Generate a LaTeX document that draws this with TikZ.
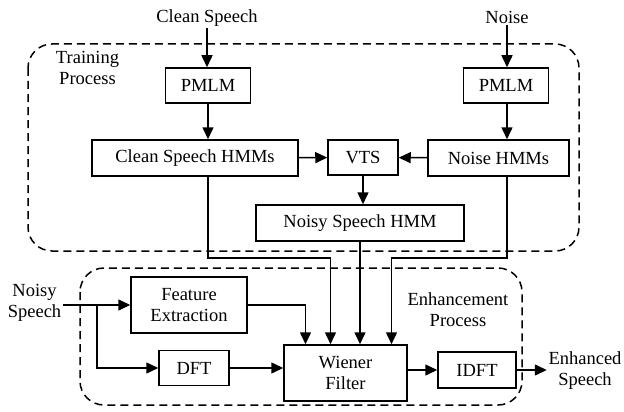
\documentclass[tikz,border=0pt]{standalone}
\usepackage{fontspec}
\setmainfont{Liberation Serif}
\usetikzlibrary{arrows.meta,positioning}
\begin{document}
\begin{tikzpicture}[x=1pt,y=-1pt,->,>={Triangle[length=12pt,width=11pt]},line width=1.5pt,every node/.style={font=\fontsize{18.5}{21}\selectfont}]
    \tikzset{blk/.style={draw=black,rectangle,minimum height=35pt,inner sep=0pt,align=center}};
    \tikzset{txt/.style={inner sep=1pt,align=center}};
    \tikzset{region/.style={draw=black,-,dash pattern=on 8pt off 5pt,rounded corners=24pt}};
    \useasboundingbox (0,0) rectangle (624,412);
    % dashed process regions
    \draw[region] (28,44) rectangle (579,251);
    \draw[region] (80,268) rectangle (522,405);
    \node[txt] (lTr) at (87.5,68) {Training\\Process};
    \node[txt] (lEn) at (458,310) {Enhancement\\Process};
    % training
    \node[txt] (tCS) at (207,18) {Clean Speech};
    \node[blk, minimum width=85pt] (pmlmC) at (208,85.5) {PMLM};
    \node[blk, minimum width=206pt, minimum height=36pt] (hmmC) at (195,158) {Clean Speech HMMs};
    \node[blk, minimum width=70pt] (vts) at (363,157.5) {VTS};
    \node[blk, minimum width=141pt, minimum height=36pt] (hmmN) at (498.5,158) {Noise HMMs};
    \node[blk, minimum width=85pt] (pmlmN) at (506,85.5) {PMLM};
    \node[txt] (tN) at (507,17) {Noise};
    \node[blk, minimum width=208pt, minimum height=36pt] (hmmY) at (360,223) {Noisy Speech HMM};
    % enhancement
    \node[txt] (tNS) at (34.5,303) {Noisy\\Speech};
    \node[blk, minimum width=116pt, minimum height=56pt] (feat) at (189,305) {Feature\\Extraction};
    \node[blk, minimum width=70pt] (dft) at (194,368) {DFT};
    \node[blk, minimum width=123pt, minimum height=56pt] (wien) at (345.5,373) {Wiener\\Filter};
    \node[blk, minimum width=78pt, minimum height=36pt] (idft) at (477,370) {IDFT};
    \node[txt] (tES) at (585,371) {Enhanced\\Speech};
    \coordinate (br) at (97,305);
    \coordinate (cC) at (208,258);
    \coordinate (cN) at (507,258);
    {
      \path
        (tCS.south) edge (tCS.south |- pmlmC.north)
        (pmlmC) edge (pmlmC |- hmmC.north)
        (hmmC) edge (vts)
        (hmmN) edge (vts)
        (tN) edge (tN |- pmlmN.north)
        (pmlmN.south -| tN) edge (tN |- hmmN.north)
        (vts) edge (vts |- hmmY.north)
        (hmmY) edge (hmmY |- wien.north)
        (dft) edge (dft -| wien.west)
        (wien.east |- idft) edge (idft)
        (idft) edge (idft -| tES.west)
        ;
      }
    \draw (tNS.east |- feat.west) -- (feat.west);
    \draw (br) |- (dft.west);
    \draw (feat.east) -| ([xshift=-40pt]wien.north);
    \draw (hmmC.south -| cC) -- (cC) -| ([xshift=-15pt]wien.north);
    \draw (hmmN.south -| cN) -- (cN) -| ([xshift=46pt]wien.north);
\end{tikzpicture}
\end{document}
